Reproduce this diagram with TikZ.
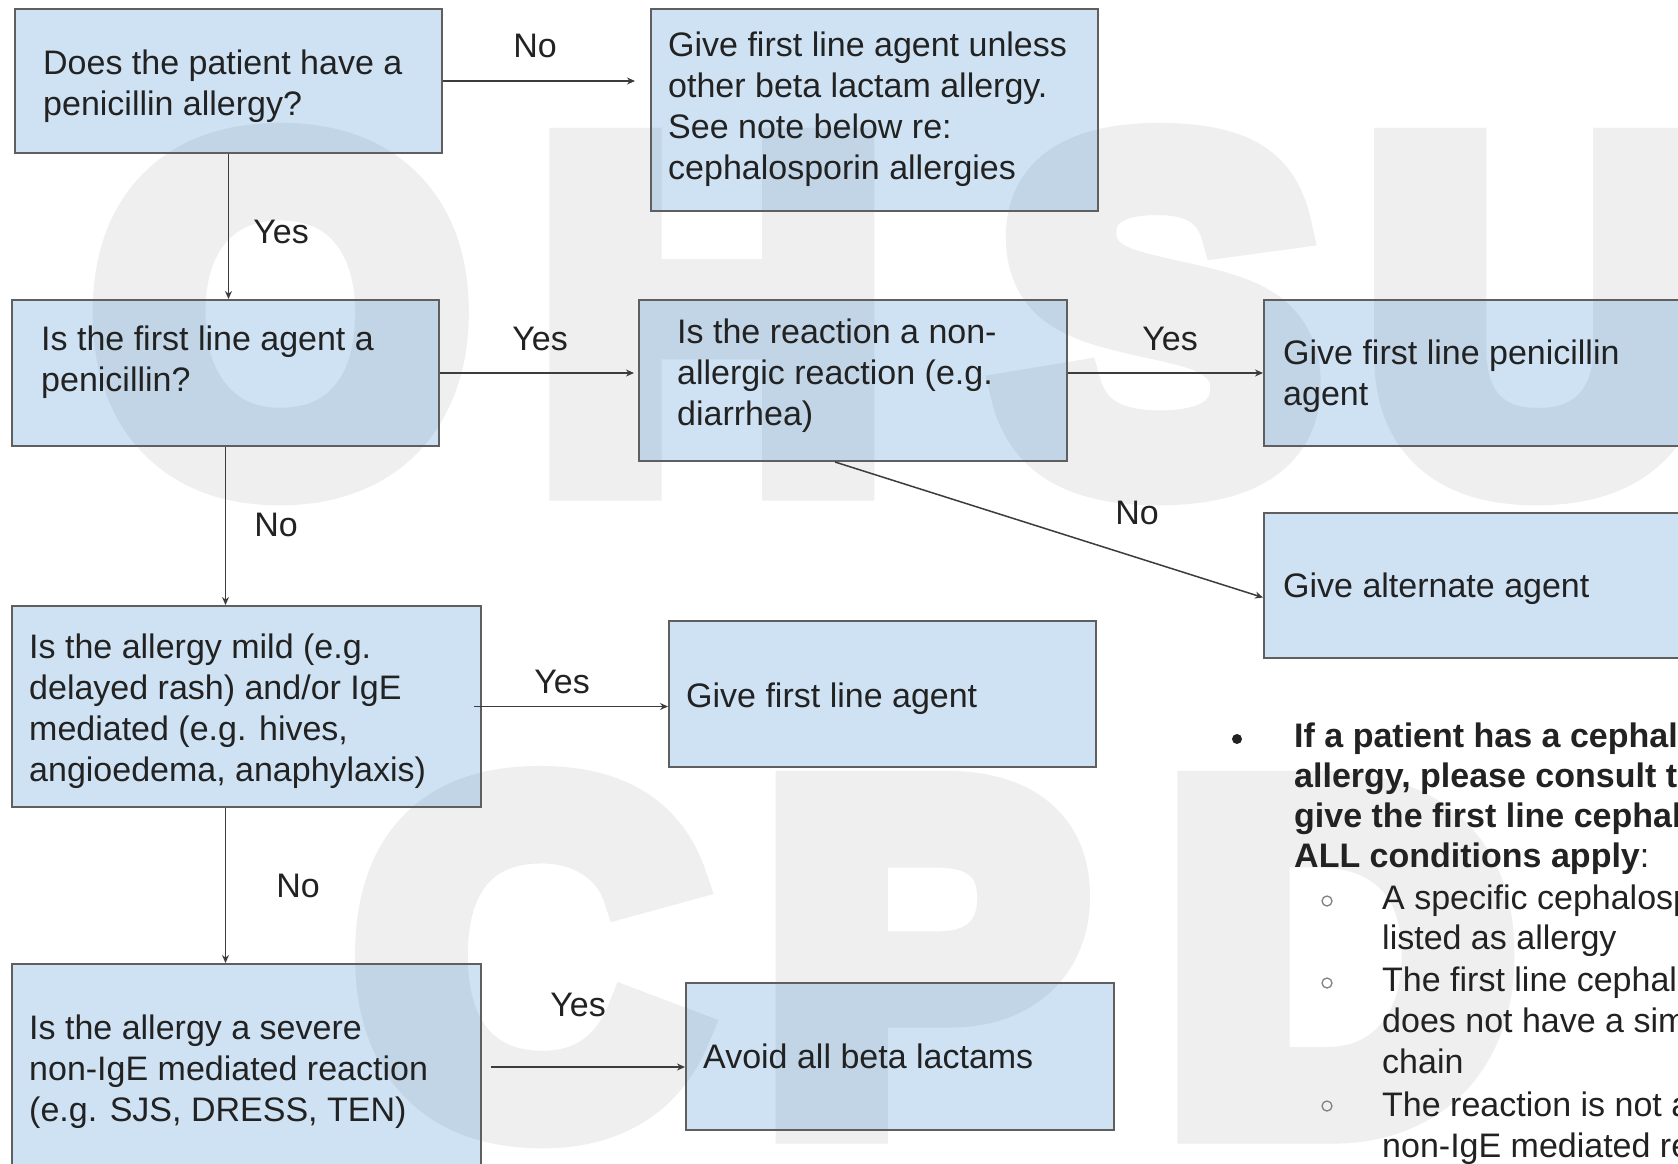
\documentclass[tikz,border=0pt]{standalone}
\usepackage{fontspec}
\setmainfont{Liberation Sans}
\newfontfamily\wmfont[FakeBold=9]{Liberation Sans Bold}
\usetikzlibrary{arrows.meta,calc}
\definecolor{boxtint}{RGB}{2,102,192}
\definecolor{boxline}{RGB}{95,95,95}
\definecolor{txt}{RGB}{34,34,34}
\definecolor{arrcol}{RGB}{60,60,60}
\definecolor{subbul}{RGB}{130,130,130}
\definecolor{wmcol}{RGB}{239,239,239}
\begin{document}
\begin{tikzpicture}[x=1pt,y=-1pt,
  box/.style={draw=boxline, fill=boxtint, fill opacity=0.19, draw opacity=1, line width=2pt, inner sep=0pt, rectangle},
  btxt/.style={anchor=base west, inner sep=0pt, align=left, text=txt, font=\fontsize{34}{41}\selectfont},
  ntxt/.style={anchor=base west, inner sep=0pt, text=txt, font=\fontsize{34}{41}\selectfont},
  lbl/.style={inner sep=0pt, text=txt, font=\fontsize{34}{41}\selectfont},
  arr/.style={draw=arrcol, line width=1.5pt, -{Stealth[length=8pt,width=7pt]}},
  subdot/.style={circle, draw=subbul, line width=1.3pt, minimum size=10pt, inner sep=0pt},
  wm/.style={anchor=base, inner sep=0pt, text=wmcol, font=\fontsize{479}{520}\wmfont}
]
\useasboundingbox (0,0) rectangle (1678,1164);
\clip (0,0) rectangle (1678,1164);
\fill[white] (0,0) rectangle (1678,1164);

% watermark (behind everything)
\node[wm] (w1) at (281,479) {O};
\node[wm] (w2) at (712,479) {H};
\node[wm] (w3) at (1158,479) {S};
\node[wm] (w4) at (1540,479) {U};
\node[wm] (w5) at (530,1122) {C};
\node[wm] (w6) at (925,1122) {P};
\node[wm] (w7) at (1340,1122) {D};

% boxes (translucent fill so the watermark shows through)
\node[box, minimum width=427pt, minimum height=144pt] (b1) at (228.5,81) {};
\node[box, minimum width=447pt, minimum height=202pt] (b2) at (874.5,110) {};
\node[box, minimum width=427pt, minimum height=146pt] (b3) at (225.5,373) {};
\node[box, minimum width=428pt, minimum height=161pt] (b4) at (853,380.5) {};
\node[box, minimum width=436pt, minimum height=146pt] (b5) at (1482,373) {};
\node[box, minimum width=436pt, minimum height=145pt] (b6) at (1482,585.5) {};
\node[box, minimum width=469pt, minimum height=201pt] (b7) at (246.5,706.5) {};
\node[box, minimum width=427pt, minimum height=146pt] (b8) at (882.5,694) {};
\node[box, minimum width=469pt, minimum height=218pt] (b9) at (246.5,1073) {};
\node[box, minimum width=428pt, minimum height=147pt] (b10) at (900,1056.5) {};

% box texts (anchor = baseline of the last line)
\node[btxt] (t1) at (43,115) {Does the patient have a\\penicillin allergy?};
\node[btxt] (t2) at (668,179) {Give first line agent unless\\other beta lactam allergy.\\See note below re:\\cephalosporin allergies};
\node[btxt] (t3) at (41,391) {Is the first line agent a\\penicillin?};
\node[btxt] (t4) at (677,425) {Is the reaction a non-\\allergic reaction (e.g.\\diarrhea)};
\node[btxt] (t5) at (1283,405) {Give first line penicillin\\agent};
\node[btxt] (t6) at (1283,597) {Give alternate agent};
\node[btxt] (t7) at (29,781) {Is the allergy mild (e.g.\\delayed rash) and/or IgE\\mediated (e.g. hives,\\angioedema, anaphylaxis)};
\node[btxt] (t8) at (686,707) {Give first line agent};
\node[btxt] (t9) at (29,1121) {Is the allergy a severe\\non-IgE mediated reaction\\(e.g. SJS, DRESS, TEN)};
\node[btxt] (t10) at (703,1068) {Avoid all beta lactams};

% connectors
\draw[arr, shorten >=15pt] (b1.east) -- (b1.east -| b2.west);
\draw[arr] (b1.south) -- (b1.south |- b3.north);
\draw[arr, shorten >=4pt] (b3.east) -- (b3.east -| b4.west);
\draw[arr] (b4.east |- b5.west) -- (b5.west);
\draw[arr] ([xshift=-18pt]b4.south) -- ([yshift=-12pt]b6.west);
\draw[arr] (b3.south) -- (b3.south |- b7.north);
\draw[arr] ([xshift=-8pt]b7.east) -- (b7.east -| b8.west);
\draw[arr] (b7.south -| b3.south) -- (b9.north -| b3.south);
\coordinate (s9) at ([xshift=9pt,yshift=6pt]b9.east);
\draw[arr] (s9) -- (s9 -| b10.west);

% labels
\node[lbl] (l1) at (535,46) {No};
\node[lbl] (l2) at (281,232) {Yes};
\node[lbl] (l3) at (540,339) {Yes};
\node[lbl] (l4) at (1170,339) {Yes};
\node[lbl] (l5) at (1137,513) {No};
\node[lbl] (l6) at (276,525) {No};
\node[lbl] (l7) at (562,682) {Yes};
\node[lbl] (l8) at (298,886) {No};
\node[lbl] (l9) at (578,1005) {Yes};

% note
\node[circle, fill=txt, minimum size=10pt, inner sep=0pt] (bul) at (1237,739) {};
\node[ntxt, font=\fontsize{34}{41}\selectfont\bfseries] (n1) at (1294,747) {If a patient has a cephal};
\node[ntxt, font=\fontsize{34}{41}\selectfont\bfseries] (n2) at (1294,787) {allergy, please consult t};
\node[ntxt, font=\fontsize{34}{41}\selectfont\bfseries] (n3) at (1294,827) {give the first line cephal};
\node[ntxt] (n4) at (1294,867) {\textbf{ALL conditions apply}:};
\node[subdot] (c1) at (1327,901) {};
\node[ntxt] (s1) at (1382,909) {A specific cephalosp};
\node[ntxt] (s2) at (1382,949) {listed as allergy};
\node[subdot] (c2) at (1327,983) {};
\node[ntxt] (s3) at (1382,991) {The first line cephal};
\node[ntxt] (s4) at (1382,1032) {does not have a sim};
\node[ntxt] (s5) at (1382,1073) {chain};
\node[subdot] (c3) at (1327,1106) {};
\node[ntxt] (s6) at (1382,1116) {The reaction is not a};
\node[ntxt] (s7) at (1382,1157) {non-IgE mediated re};
\end{tikzpicture}
\end{document}
